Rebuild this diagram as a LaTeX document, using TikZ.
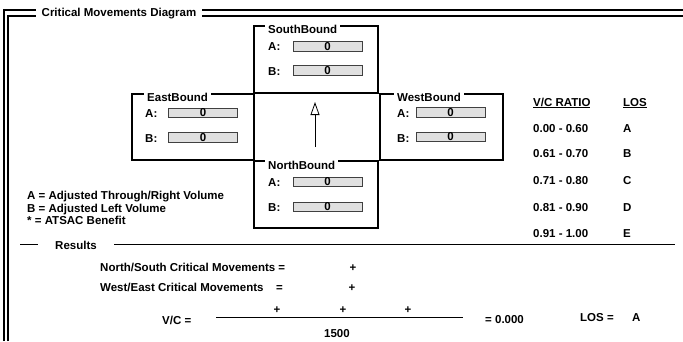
\documentclass[tikz,border=0pt]{standalone}
\usepackage{fontspec}
\setmainfont{Liberation Sans}
\usetikzlibrary{arrows.meta}

\tikzset{
	txt/.style={font=\bfseries\fontsize{11.5}{13}\selectfont,inner sep=0pt,anchor=base west},
	gap/.style={txt,fill=white,inner xsep=3pt,inner ysep=1.5pt},
	field/.style={draw=black!75,line width=0.6pt,fill=black!12,inner sep=0pt,minimum width=69pt,minimum height=9.5pt,font=\bfseries\fontsize{11.5}{13}\selectfont},
	dirbox/.style={line width=1.8pt},
	frameline/.style={line width=2pt}
}

\begin{document}
\begin{tikzpicture}[x=1pt,y=-1pt]
	\useasboundingbox (0,0) rectangle (683,341);
	\draw[frameline] (4.3,341) -- (4.3,10.3) -- (683,10.3);
	\draw[frameline] (8.3,341) -- (8.3,15.7) -- (683,15.7);
	\node[gap,inner xsep=5.5pt,inner ysep=2.5pt] (title) at (36,16) {Critical Movements Diagram};

	\draw[dirbox] (254,26) rectangle (378,93);
	\node[gap] (sb) at (265,33.5) {SouthBound};
	\node[txt] (sbAl) at (268,50) {A:};
	\node[field] (sbA) at (327.5,46.5) {0};
	\node[txt] (sbBl) at (268,75.5) {B:};
	\node[field] (sbB) at (327.5,70.5) {0};

	\draw[dirbox] (132,94) rectangle (254,160);
	\node[gap] (eb) at (144,101.5) {EastBound};
	\node[txt] (ebAl) at (145,117) {A:};
	\node[field] (ebA) at (203,113) {0};
	\node[txt] (ebBl) at (145,142) {B:};
	\node[field] (ebB) at (203,137.5) {0};

	\draw[dirbox] (380,94) rectangle (503,160);
	\node[gap] (wb) at (394,101.5) {WestBound};
	\node[txt] (wbAl) at (397,117) {A:};
	\node[field] (wbA) at (450.5,112.5) {0};
	\node[txt] (wbBl) at (397,142) {B:};
	\node[field] (wbB) at (450.5,137) {0};

	\draw[dirbox] (254,161) rectangle (378,228);
	\node[gap] (nb) at (265,169) {NorthBound};
	\node[txt] (nbAl) at (268,186) {A:};
	\node[field] (nbA) at (327.5,182) {0};
	\node[txt] (nbBl) at (268,211) {B:};
	\node[field] (nbB) at (327.5,207) {0};

	\coordinate (tail) at (315,147);
	\coordinate (head) at (315,102);
	\draw[line width=0.8pt,-{Triangle[open,length=13pt,width=9pt,line width=0.8pt]}] (tail) -- (head);

	\node[txt] (ratio) at (533,106) {\underline{V/C RATIO}};
	\node[txt] (los) at (623,106) {\underline{LOS}};
	\node[txt] (r1) at (533,132) {0.00 - 0.60};
	\node[txt] (l1) at (623,132) {A};
	\node[txt] (r2) at (533,157) {0.61 - 0.70};
	\node[txt] (l2) at (623,157) {B};
	\node[txt] (r3) at (533,184) {0.71 - 0.80};
	\node[txt] (l3) at (623,184) {C};
	\node[txt] (r4) at (533,211) {0.81 - 0.90};
	\node[txt] (l4) at (623,211) {D};
	\node[txt] (r5) at (533,237) {0.91 - 1.00};
	\node[txt] (l5) at (623,237) {E};

	\node[txt] (keyA) at (27,199) {A = Adjusted Through/Right Volume};
	\node[txt] (keyB) at (27,212) {B = Adjusted Left Volume};
	\node[txt] (keyS) at (27,224) {* = ATSAC Benefit};

	\draw[line width=0.8pt] (20,244) -- (675,244);
	\node[txt,fill=white,inner xsep=17pt,inner ysep=2pt] (results) at (38,249) {Results};

	\node[txt] (ns) at (100,271) {North/South Critical Movements =};
	\node[txt,anchor=base] (nsplus) at (353,271) {+};
	\node[txt] (we) at (100,291) {West/East Critical Movements};
	\node[txt] (weeq) at (276,291) {=};
	\node[txt,anchor=base] (weplus) at (352,291) {+};

	\node[txt] (vc) at (162,324) {V/C =};
	\coordinate (fracL) at (216,317);
	\coordinate (fracR) at (463,317);
	\draw[line width=1pt] (fracL) -- (fracR);
	\node[txt,anchor=base] (p1) at (277,313) {+};
	\node[txt,anchor=base] (p2) at (343,313) {+};
	\node[txt,anchor=base] (p3) at (408,313) {+};
	\node[txt,anchor=base] (cap) at (337,337) {1500};
	\node[txt] (vcval) at (485,323) {= 0.000};
	\node[txt] (loseq) at (580,321) {LOS =};
	\node[txt] (losval) at (632,321) {A};
\end{tikzpicture}
\end{document}
